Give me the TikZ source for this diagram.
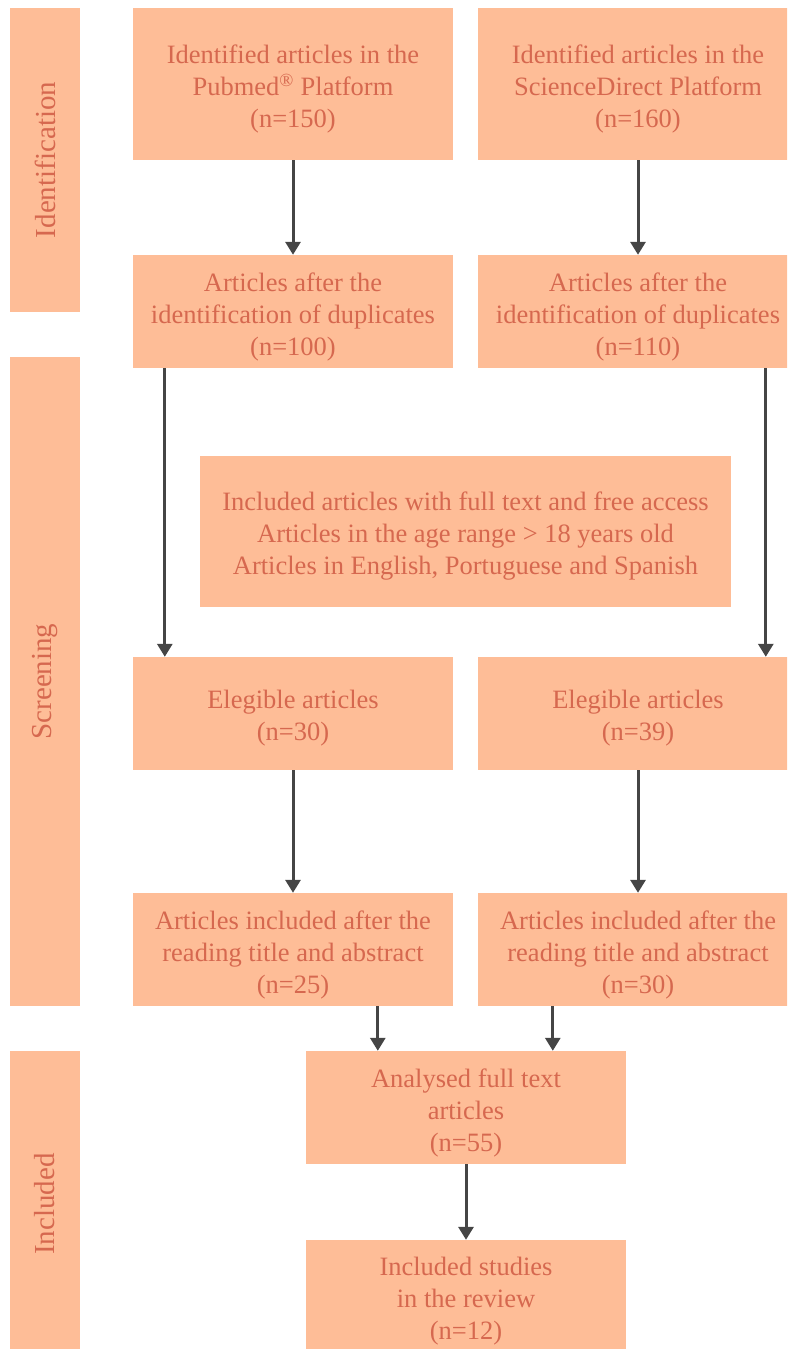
\documentclass[tikz,border=0pt]{standalone}
\usepackage{fontspec}
\setmainfont{Liberation Serif}
\usetikzlibrary{arrows.meta,positioning,calc}
\definecolor{peach}{HTML}{FEBD97}
\definecolor{rust}{HTML}{D6684F}
\definecolor{ink}{HTML}{454545}
\tikzset{
  box/.style ={fill=peach,minimum width=320pt,minimum height=113pt,inner sep=0pt},
  txt/.style ={text=rust,align=center,inner sep=0pt,yshift=-5pt,
               font=\fontsize{26.5}{32}\selectfont},
  side/.style={fill=peach,minimum width=70pt,inner sep=0pt},
  slbl/.style={text=rust,rotate=90,font=\fontsize{29}{32}\selectfont},
  ar/.style  ={-{Triangle[length=13pt,width=15pt]},line width=3pt,draw=ink},
}
\begin{document}
\begin{tikzpicture}[x=1pt,y=-1pt]
  \useasboundingbox (0,0) rectangle (787,1349);
  \clip (0,0) rectangle (787,1349);
  \node[side,minimum height=304pt] (sI) at (45,160){};
  \node[side,minimum height=649pt] (sS) at (45,681.5){};
  \node[side,minimum height=310pt] (sC) at (45,1206){};
  \node[slbl] (sIt) at (sI){Identification};
  \node[slbl] (sSt) at (sS){Screening};
  \node[slbl] (sCt) at (45,1204){Included};
  \node[box,minimum height=152pt] (A1) at (293,84){};
  \node[box,minimum height=152pt] (A2) at (638,84){};
  \node[box] (B1) at (293,311.5){};
  \node[box] (B2) at (638,311.5){};
  \node[box,minimum width=531pt,minimum height=151pt] (K) at (465.5,531.5){};
  \node[box] (C1) at (293,713.5){};
  \node[box] (C2) at (638,713.5){};
  \node[box] (D1) at (293,949.5){};
  \node[box] (D2) at (638,949.5){};
  \node[box] (E) at (466,1107.5){};
  \node[box] (F) at (466,1296.5){};
  \node[txt] (A1t) at (A1){Identified articles in the\\Pubmed\textsuperscript{®} Platform\\(n=150)};
  \node[txt] (A2t) at (A2){Identified articles in the\\ScienceDirect Platform\\(n=160)};
  \node[txt] (B1t) at (B1){Articles after the\\identification of duplicates\\(n=100)};
  \node[txt] (B2t) at (B2){Articles after the\\identification of duplicates\\(n=110)};
  \node[txt] (Kt) at (K){Included articles with full text and free access\\Articles in the age range > 18 years old\\Articles in English, Portuguese and Spanish};
  \node[txt] (C1t) at (C1){Elegible articles\\(n=30)};
  \node[txt] (C2t) at (C2){Elegible articles\\(n=39)};
  \node[txt] (D1t) at (D1){Articles included after the\\reading title and abstract\\(n=25)};
  \node[txt] (D2t) at (D2){Articles included after the\\reading title and abstract\\(n=30)};
  \node[txt] (Et) at (E){Analysed full text\\articles\\(n=55)};
  \node[txt] (Ft) at (F){Included studies\\in the review\\(n=12)};
  \draw[ar] (A1)--(B1);
  \draw[ar] (A2)--(B2);
  \draw[ar] ([xshift=32pt]B1.south west)--([xshift=32pt]C1.north west);
  \draw[ar] ([xshift=288pt]B2.south west)--([xshift=288pt]C2.north west);
  \draw[ar] (C1)--(D1);
  \draw[ar] (C2)--(D2);
  \draw[ar] ([xshift=245pt]D1.south west)--([xshift=245pt]D1.south west |- E.north);
  \draw[ar] ([xshift=75pt]D2.south west)--([xshift=75pt]D2.south west |- E.north);
  \draw[ar] (E)--(F);
\end{tikzpicture}
\end{document}
